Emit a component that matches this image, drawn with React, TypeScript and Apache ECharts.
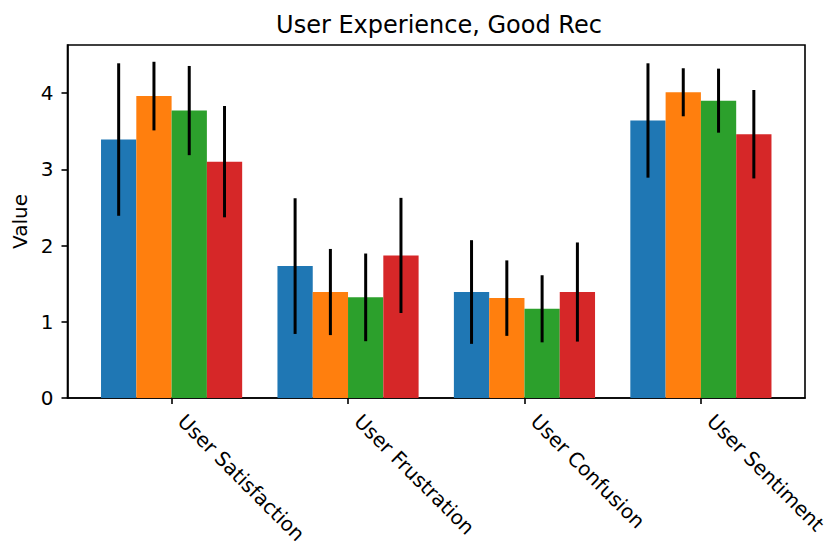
import React, { useEffect, useRef } from "react";
import * as echarts from "echarts";

const categories = ["User Satisfaction", "User Frustration", "User Confusion", "User Sentiment"];
const seriesNames = ["S1", "S2", "S3", "S4"];
const seriesColors = ["#1f77b4", "#ff7f0e", "#2ca02c", "#d62728"];
const blueValues = [3.39, 1.73, 1.39, 3.64];
const blueErrors = [1.0, 0.89, 0.68, 0.75];
const orangeValues = [3.96, 1.39, 1.31, 4.01];
const orangeErrors = [0.45, 0.565, 0.495, 0.315];
const greenValues = [3.77, 1.32, 1.17, 3.9];
const greenErrors = [0.585, 0.575, 0.44, 0.42];
const redValues = [3.1, 1.87, 1.39, 3.46];
const redErrors = [0.73, 0.755, 0.65, 0.58];
const yTicks = [0, 1, 2, 3, 4];
const xTicks = [0, 1, 2, 3];

const allValues = [blueValues, orangeValues, greenValues, redValues];
const allErrors = [blueErrors, orangeErrors, greenErrors, redErrors];

const FONT = "DejaVu Sans";
const BAR_W = 0.2;

export default function App() {
  const ref = useRef<HTMLDivElement>(null);
  useEffect(() => {
    document.body.style.margin = "0";
    const chart = echarts.init(ref.current!, null, { renderer: "svg" });
    const series = allValues.map((vals, s) => ({
      type: "custom",
      name: seriesNames[s],
      encode: { x: 0, y: 1 },
      data: vals.map((v, i) => [i, v, allErrors[s][i]]),
      renderItem: (params: any, api: any) => {
        const cat = api.value(0);
        const v = api.value(1);
        const e = api.value(2);
        const xc = cat + (s - 1.5) * BAR_W;
        const p0 = api.coord([xc - BAR_W / 2, v]);
        const p1 = api.coord([xc + BAR_W / 2, 0]);
        const t = api.coord([xc, v + e]);
        const b = api.coord([xc, v - e]);
        return {
          type: "group",
          children: [
            {
              type: "rect",
              shape: { x: p0[0], y: p0[1], width: p1[0] - p0[0], height: p1[1] - p0[1] },
              style: { fill: seriesColors[s] },
            },
            {
              type: "line",
              z2: 10,
              shape: { x1: t[0], y1: t[1], x2: b[0], y2: b[1] },
              style: { stroke: "#000", lineWidth: 3 },
            },
          ],
        };
      },
    }));
    chart.setOption({
      animation: false,
      title: {
        text: "User Experience, Good Rec",
        left: 434,
        top: 8,
        textAlign: "center",
        textStyle: { fontFamily: FONT, fontSize: 24, fontWeight: "normal", color: "#000" },
      },
      grid: {
        left: 67.5,
        top: 45,
        right: 34,
        bottom: 162,
        show: true,
        borderColor: "#000",
        borderWidth: 1.6,
        containLabel: false,
      },
      xAxis: {
        type: "value",
        min: -0.59,
        max: 3.59,
        splitLine: { show: false },
        axisLine: { show: true, onZero: false, lineStyle: { color: "#000", width: 1.6 } },
        axisTick: { show: true, length: 6, lineStyle: { color: "#000", width: 1.6 }, customValues: xTicks },
        axisLabel: {
          customValues: xTicks,
          rotate: -45,
          margin: 10,
          padding: [0, 0, 0, 14],
          fontFamily: FONT,
          fontSize: 20,
          color: "#000",
          formatter: (v: number) => categories[Math.round(v)] ?? "",
        },
      },
      yAxis: {
        type: "value",
        min: 0,
        max: 4.63,
        name: "Value",
        nameLocation: "middle",
        nameGap: 33.5,
        nameTextStyle: { fontFamily: FONT, fontSize: 20, color: "#000" },
        splitLine: { show: false },
        axisLine: { show: true, onZero: false, lineStyle: { color: "#000", width: 1.6 } },
        axisTick: { show: true, length: 6, lineStyle: { color: "#000", width: 1.6 }, customValues: yTicks },
        axisLabel: {
          customValues: yTicks,
          margin: 14,
          fontFamily: FONT,
          fontSize: 20,
          color: "#000",
        },
      },
      series,
    });
    return () => chart.dispose();
  }, []);
  return <div ref={ref} style={{ width: 839, height: 560 }} />;
}
